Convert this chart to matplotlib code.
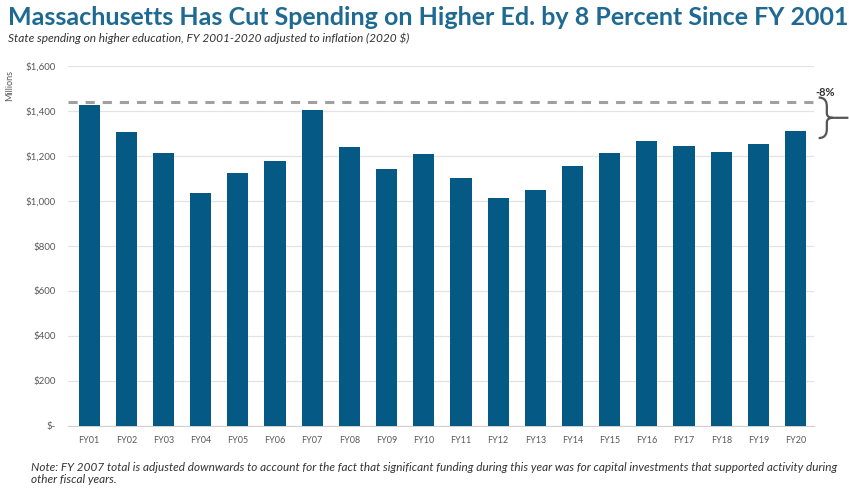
import numpy as np
import matplotlib.pyplot as plt
from matplotlib.path import Path
from matplotlib.patches import PathPatch
from matplotlib.ticker import FuncFormatter

plt.rcParams['font.family'] = ['Lato', 'DejaVu Sans']

years = ['FY01', 'FY02', 'FY03', 'FY04', 'FY05', 'FY06', 'FY07', 'FY08', 'FY09', 'FY10',
         'FY11', 'FY12', 'FY13', 'FY14', 'FY15', 'FY16', 'FY17', 'FY18', 'FY19', 'FY20']
spending = [1427, 1307, 1213, 1036, 1124, 1178, 1404, 1240, 1142, 1209,
            1102, 1012, 1049, 1156, 1212, 1267, 1244, 1218, 1252, 1311]
yticks = [0, 200, 400, 600, 800, 1000, 1200, 1400, 1600]

azul = '#045a84'
gris = '#595959'

fig = plt.figure(figsize=(8.49, 4.93), dpi=100)
ax = fig.add_axes([0.080, 0.136, 0.879, 0.730])

x = np.arange(len(years))
ax.bar(x, spending, width=0.57, color=azul, zorder=3)

ax.set_xlim(-0.57, len(years) - 0.5)
ax.set_ylim(0, 1600)
ax.set_yticks(yticks)
ax.yaxis.set_major_formatter(FuncFormatter(lambda v, p: '$-' if v == 0 else f'${v:,.0f}'))
ax.set_xticks(x)
ax.set_xticklabels(years)
ax.tick_params(axis='x', length=0, labelsize=6.5, colors=gris, pad=7)
ax.tick_params(axis='y', length=0, labelsize=7, colors=gris, pad=9)
ax.grid(axis='y', color='#e3e3e3', linewidth=0.9, zorder=0)
for lado in ['top', 'right', 'left']:
    ax.spines[lado].set_visible(False)
ax.spines['bottom'].set_color('#d0d0d0')
ax.set_ylabel('Millions', fontsize=6.5, color=gris, labelpad=0)
ax.yaxis.set_label_coords(-0.072, 0.947)

# línea de referencia en el nivel de FY01
nivel = 1440
ax.plot([-0.57, 19.62], [nivel, nivel], color='#a0a0a0', linewidth=2.2,
        linestyle=(0, (3, 2.6)), clip_on=False, zorder=4)

# llave entre FY01 y FY20
top, bot = 1460, 1280
mid = (top + bot) / 2
x0, x1, x2 = 19.62, 19.95, 20.42
codes = [Path.MOVETO, Path.CURVE4, Path.CURVE4, Path.CURVE4,
         Path.LINETO, Path.CURVE4, Path.CURVE4, Path.CURVE4,
         Path.LINETO,
         Path.MOVETO, Path.CURVE4, Path.CURVE4, Path.CURVE4,
         Path.LINETO, Path.CURVE4, Path.CURVE4, Path.CURVE4]
verts = [(x0, top), (x0 + 0.2, top), (x0 + 0.22, top - 25), (x0 + 0.22, top - 40),
         (x0 + 0.22, mid + 20), (x0 + 0.22, mid + 5), (x0 + 0.3, mid), (x1 + 0.05, mid),
         (x2, mid),
         (x0, bot), (x0 + 0.2, bot), (x0 + 0.22, bot + 25), (x0 + 0.22, bot + 40),
         (x0 + 0.22, mid - 20), (x0 + 0.22, mid - 5), (x0 + 0.3, mid), (x1 + 0.05, mid)]
ax.add_patch(PathPatch(Path(verts, codes), facecolor='none', edgecolor='#555555',
                       linewidth=1.6, clip_on=False, zorder=4))
ax.text(19.8, 1458, '-8%', fontsize=8, fontweight='bold', color='#333333',
        ha='center', va='bottom', clip_on=False)

fig.text(0.009, 0.965, 'Massachusetts Has Cut Spending on Higher Ed. by 8 Percent Since FY 2001',
         fontsize=18, fontweight='bold', color='#1e6a92', ha='left', va='center')
fig.text(0.010, 0.922, 'State spending on higher education, FY 2001-2020 adjusted to inflation (2020 $)',
         fontsize=8.6, style='italic', color='#333333', ha='left', va='center')
fig.text(0.036, 0.040, 'Note: FY 2007 total is adjusted downwards to account for the fact that significant '
         'funding during this year was for capital investments that supported activity during\nother fiscal years.',
         fontsize=8.45, style='italic', color='#333333', ha='left', va='center', linespacing=1.15)

fig.savefig('out.png', dpi=100)
